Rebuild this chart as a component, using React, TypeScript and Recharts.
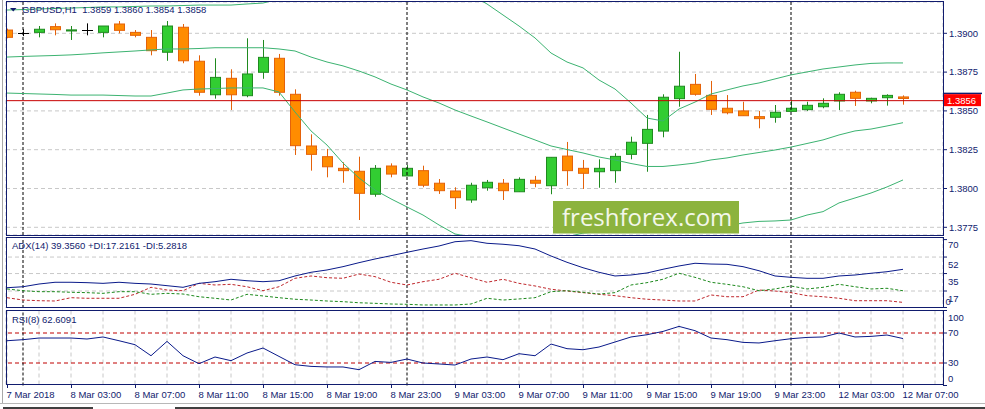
import React from 'react';
import { ComposedChart, Bar, Line, XAxis, YAxis, CartesianGrid, ReferenceLine } from 'recharts';

// ---------- data ----------
const opens = [1.39021, 1.39000, 1.39006, 1.39043, 1.39015, 1.39021, 1.39006, 1.39060, 1.39006, 1.38974,
  1.38878, 1.39039, 1.38820, 1.38604, 1.38710, 1.38598, 1.38749, 1.38839, 1.38607, 1.38274,
  1.38205, 1.38130, 1.38111, 1.37963, 1.38145, 1.38081, 1.38115, 1.38034, 1.37984, 1.37926,
  1.38005, 1.38034, 1.37979, 1.38053, 1.38018, 1.38209, 1.38130, 1.38108, 1.38115, 1.38220,
  1.38291, 1.38370, 1.38579, 1.38671, 1.38600, 1.38517, 1.38500, 1.38463, 1.38459, 1.38497,
  1.38508, 1.38527, 1.38564, 1.38620, 1.38564, 1.38585, 1.38590];
const highs = [1.39030, 1.39026, 1.39047, 1.39064, 1.39047, 1.39064, 1.39047, 1.39079, 1.39021, 1.39021,
  1.39079, 1.39060, 1.38858, 1.38839, 1.38768, 1.38968, 1.38957, 1.38867, 1.38639, 1.38349,
  1.38255, 1.38169, 1.38205, 1.38151, 1.38162, 1.38151, 1.38147, 1.38061, 1.38008, 1.38037,
  1.38055, 1.38061, 1.38072, 1.38081, 1.38201, 1.38300, 1.38184, 1.38188, 1.38227, 1.38334,
  1.38474, 1.38607, 1.38881, 1.38738, 1.38693, 1.38602, 1.38559, 1.38500, 1.38538, 1.38570,
  1.38559, 1.38581, 1.38620, 1.38630, 1.38585, 1.38607, 1.38600];
const lows = [1.38968, 1.38982, 1.38974, 1.38987, 1.38957, 1.38987, 1.38974, 1.39000, 1.38974, 1.38858,
  1.38823, 1.38807, 1.38598, 1.38579, 1.38506, 1.38588, 1.38707, 1.38598, 1.38216, 1.38115,
  1.38072, 1.38037, 1.37797, 1.37947, 1.38072, 1.38081, 1.38008, 1.37965, 1.37868, 1.37908,
  1.37986, 1.37926, 1.37979, 1.38008, 1.37963, 1.38018, 1.37997, 1.38005, 1.38037, 1.38188,
  1.38108, 1.38330, 1.38527, 1.38598, 1.38474, 1.38478, 1.38469, 1.38388, 1.38424, 1.38497,
  1.38500, 1.38517, 1.38506, 1.38532, 1.38549, 1.38534, 1.38540];
const closes = [1.38974, 1.39000, 1.39026, 1.39023, 1.39022, 1.39021, 1.39047, 1.39019, 1.38987, 1.38888,
  1.39047, 1.38823, 1.38620, 1.38716, 1.38604, 1.38738, 1.38845, 1.38620, 1.38276, 1.38220,
  1.38140, 1.38115, 1.37969, 1.38130, 1.38093, 1.38130, 1.38021, 1.37986, 1.37941, 1.38021,
  1.38040, 1.37986, 1.38059, 1.38034, 1.38201, 1.38115, 1.38098, 1.38130, 1.38207, 1.38298,
  1.38381, 1.38588, 1.38659, 1.38607, 1.38510, 1.38488, 1.38469, 1.38450, 1.38491, 1.38517,
  1.38536, 1.38549, 1.38607, 1.38581, 1.38581, 1.38600, 1.38580];

const bbUpper = [1.39150, 1.39153, 1.39157, 1.39160, 1.39163, 1.39166, 1.39170, 1.39170, 1.39173, 1.39176,
  1.39176, 1.39179, 1.39182, 1.39182, 1.39182, 1.39189, 1.39195, 1.39221, 1.39279, 1.39324,
  1.39350, 1.39414, 1.39447, 1.39447, 1.39414, 1.39389, 1.39350, 1.39337, 1.39305, 1.39247,
  1.39189, 1.39118, 1.39047, 1.38970, 1.38873, 1.38815, 1.38777, 1.38699, 1.38641, 1.38551,
  1.38454, 1.38435, 1.38512, 1.38557, 1.38609, 1.38635, 1.38661, 1.38680, 1.38706, 1.38732,
  1.38751, 1.38770, 1.38783, 1.38796, 1.38806, 1.38809, 1.38809];
const bbMiddle = [1.38847, 1.38851, 1.38854, 1.38857, 1.38861, 1.38867, 1.38874, 1.38880, 1.38886, 1.38893,
  1.38899, 1.38899, 1.38902, 1.38907, 1.38907, 1.38907, 1.38907, 1.38899, 1.38886, 1.38847,
  1.38815, 1.38790, 1.38757, 1.38719, 1.38673, 1.38635, 1.38590, 1.38551, 1.38506, 1.38467,
  1.38429, 1.38390, 1.38351, 1.38313, 1.38274, 1.38251, 1.38229, 1.38203, 1.38184, 1.38161,
  1.38142, 1.38142, 1.38152, 1.38164, 1.38184, 1.38197, 1.38216, 1.38232, 1.38248, 1.38267,
  1.38290, 1.38313, 1.38345, 1.38371, 1.38383, 1.38403, 1.38424];
const bbLower = [1.38615, 1.38612, 1.38609, 1.38606, 1.38602, 1.38602, 1.38602, 1.38599, 1.38596, 1.38596,
  1.38615, 1.38635, 1.38641, 1.38644, 1.38648, 1.38648, 1.38648, 1.38622, 1.38493, 1.38371,
  1.38280, 1.38164, 1.38068, 1.37990, 1.37933, 1.37881, 1.37829, 1.37765, 1.37707, 1.37688,
  1.37662, 1.37655, 1.37636, 1.37623, 1.37655, 1.37688, 1.37713, 1.37720, 1.37720, 1.37765,
  1.37823, 1.37849, 1.37797, 1.37772, 1.37759, 1.37759, 1.37778, 1.37788, 1.37791, 1.37797,
  1.37829, 1.37851, 1.37907, 1.37939, 1.37971, 1.38010, 1.38055];

const adxMain = [20.4, 21.4, 24.2, 26.0, 26.0, 25.6, 24.9, 26.0, 24.9, 24.2,
  22.5, 20.8, 24.9, 26.6, 29.1, 27.6, 26.6, 27.6, 32.5, 36.3,
  38.7, 42.1, 46.2, 50.0, 53.4, 56.9, 60.3, 63.4, 67.8, 68.9,
  66.2, 65.2, 63.7, 60.3, 53.1, 46.6, 41.0, 36.3, 32.5, 33.5,
  35.6, 39.4, 42.8, 45.6, 44.8, 44.5, 42.1, 37.9, 32.5, 31.1,
  30.1, 30.1, 32.5, 33.5, 35.3, 36.9, 39.36];
const plusDI = [19.1, 17.3, 16.3, 16.3, 15.7, 15.3, 14.6, 16.3, 16.3, 13.6,
  14.6, 13.9, 11.1, 9.5, 7.7, 13.6, 11.9, 10.1, 8.5, 7.7,
  6.7, 6.0, 4.9, 4.3, 3.6, 3.3, 2.6, 2.6, 2.6, 3.6,
  9.5, 7.7, 8.8, 10.1, 16.3, 17.3, 15.7, 13.9, 15.3, 23.2,
  25.6, 29.1, 35.3, 31.1, 26.0, 23.9, 21.4, 17.3, 19.1, 22.2,
  19.1, 20.8, 23.9, 21.4, 19.1, 19.8, 17.22];
const minusDI = [10.1, 7.7, 7.0, 6.7, 10.1, 9.5, 9.5, 9.5, 13.6, 20.8,
  18.0, 17.3, 24.9, 23.2, 23.9, 21.4, 17.3, 21.4, 30.1, 32.5,
  30.7, 30.1, 34.5, 31.8, 26.0, 23.2, 26.6, 29.1, 35.3, 30.7,
  26.0, 29.1, 24.9, 22.2, 18.8, 17.0, 15.3, 13.6, 12.2, 10.1,
  8.5, 7.7, 6.7, 6.7, 12.9, 11.1, 11.1, 18.0, 17.0, 15.3,
  12.2, 11.1, 9.5, 7.0, 7.0, 7.0, 5.28];
const rsiValues = [59.7, 61.1, 63.3, 63.3, 63.3, 62.0, 64.7, 59.7, 54.4, 39.7,
  58.8, 39.7, 29.1, 38.0, 33.1, 43.3, 50.0, 38.8, 27.7, 25.5,
  24.7, 24.7, 21.1, 32.1, 30.8, 35.3, 30.0, 28.7, 27.3, 35.3,
  38.0, 34.4, 42.4, 39.7, 55.3, 49.1, 47.7, 51.3, 58.0, 64.7,
  67.7, 72.1, 78.8, 73.1, 63.3, 61.1, 57.5, 56.7, 59.7, 62.4,
  64.1, 64.7, 70.0, 64.7, 65.5, 67.3, 62.61];

const timeTickIdx = [0, 4, 8, 12, 16, 20, 24, 28, 32, 36, 40, 44, 48, 52, 56];
const timeLabels = ['7 Mar 2018', '8 Mar 03:00', '8 Mar 07:00', '8 Mar 11:00', '8 Mar 15:00', '8 Mar 19:00',
  '8 Mar 23:00', '9 Mar 03:00', '9 Mar 07:00', '9 Mar 11:00', '9 Mar 15:00', '9 Mar 19:00',
  '9 Mar 23:00', '12 Mar 03:00', '12 Mar 07:00'];
const gridIdx = Array.from({ length: 30 }, (_, k) => k * 2);
const separatorIdx = [1, 25, 49];
const priceTicks = [1.3775, 1.38, 1.3825, 1.385, 1.3875, 1.39];
const bidPrice = 1.38566;
const bidLabel = '1.3856';
const adxTicks = [70, 52, 35, 17, 0];
const adxGrid = [52, 35, 17];
const rsiTicks = [100, 70, 30, 0];
const rsiLevels = [70, 30];
const headerText = 'GBPUSD,H1  1.3859 1.3860 1.3854 1.3858';
const adxText = 'ADX(14) 39.3560 +DI:17.2161 -DI:5.2818';
const rsiText = 'RSI(8) 62.6091';
const watermark = 'freshforex.com';

const data = opens.map((o, i) => ({
  i,
  o,
  h: highs[i],
  l: lows[i],
  c: closes[i],
  range: [lows[i], highs[i]],
  bbUp: bbUpper[i],
  bbMid: bbMiddle[i],
  bbLo: bbLower[i],
  adx: adxMain[i],
  pdi: plusDI[i],
  mdi: minusDI[i],
  rsi: rsiValues[i],
}));

// ---------- style ----------
const W = 985;
const H = 409;
const NAVY = '#111c6e';
const GRID = '#c8c8c8';
const FONT = '"Liberation Sans", Arial, sans-serif';
const FS = 9.5;
const X_DOMAIN: [number, number] = [-0.0625, 58.5];
const BAND = '#3cb371';

function renderCandle(props: any) {
  const { x, y, width, height, payload } = props;
  if (!payload || height == null || isNaN(y)) return <g />;
  const { o, h, l, c } = payload;
  const cx = Math.round(x + width / 2);
  const ratio = h > l ? height / (h - l) : 0;
  const py = (p: number) => y + (h - p) * ratio;
  const wx = cx + 0.5;
  if (o === c) {
    const yy = Math.round(py(o)) + 0.5;
    return (
      <g>
        <line x1={wx} x2={wx} y1={y} y2={y + height} stroke="#000" strokeWidth={1} />
        <line x1={cx - 5} x2={cx + 6} y1={yy} y2={yy} stroke="#000" strokeWidth={1} />
      </g>
    );
  }
  const bull = c > o;
  const top = py(Math.max(o, c));
  const bot = py(Math.min(o, c));
  const stroke = bull ? '#1f8a1f' : '#e4620a';
  const fill = bull ? '#32cd32' : '#ff8c00';
  return (
    <g>
      <line x1={wx} x2={wx} y1={y} y2={y + height} stroke={stroke} strokeWidth={1} />
      <rect x={cx - 4.5} y={top} width={10} height={Math.max(bot - top, 1)} fill={fill} stroke={stroke} strokeWidth={1} />
    </g>
  );
}

const BidLabel = (props: any) => {
  const vb = props.viewBox || {};
  const x = (vb.x ?? 0) + (vb.width ?? 0);
  const y = vb.y ?? 0;
  return (
    <g>
      <rect x={x + 1} y={y - 8} width={38} height={1.5} fill={NAVY} />
      <rect x={x + 1} y={y - 6.5} width={37} height={12} fill="#ff0000" />
      <text x={x + 4} y={y + 3.6} fill="#ffffff" fontSize={FS} fontFamily={FONT}>{bidLabel}</text>
    </g>
  );
};

const AdxTick = (props: any) => {
  const { x, y, payload } = props;
  const v = payload.value;
  const dy = v === 70 ? 5 : v === 0 ? -5.5 : 7.6;
  const dx = v === 0 ? -2.5 : 0;
  return (
    <text x={x + dx} y={y + dy + 3.4} fill={NAVY} fontSize={FS} fontFamily={FONT}>{v}</text>
  );
};

const RsiTick = (props: any) => {
  const { x, y, payload } = props;
  const v = payload.value;
  const dy = v === 100 ? 6.8 : v === 0 ? -7.2 : 0;
  return (
    <text x={x} y={y + dy + 3.4} fill={NAVY} fontSize={FS} fontFamily={FONT}>{v}</text>
  );
};

const TimeTick = (props: any) => {
  const { x, y, payload } = props;
  const k = timeTickIdx.indexOf(payload.value);
  if (k < 0) return <g />;
  const xx = Math.round(x) + 0.5;
  return (
    <g>
      <line x1={xx} x2={xx} y1={y - 5.5} y2={y - 1.5} stroke={NAVY} />
      <text x={x - 0.5} y={y + 8.2} fill={NAVY} fontSize={FS} fontFamily={FONT} textAnchor="start">{timeLabels[k]}</text>
    </g>
  );
};

const layer: React.CSSProperties = { position: 'absolute', left: 0, top: 0 };

export default function App() {
  return (
    <div style={{ position: 'absolute', left: 0, top: 0, width: W, height: H, background: '#ffffff', overflow: 'hidden' }}>
      {/* main price panel */}
      <div style={layer}>
        <ComposedChart width={W} height={H} data={data} margin={{ top: 2, right: 0, bottom: 174, left: 6 }}>
          <CartesianGrid stroke={GRID} strokeDasharray="4 3" />
          <XAxis type="number" dataKey="i" domain={X_DOMAIN} ticks={gridIdx} allowDataOverflow height={0}
            tick={false} axisLine={false} tickLine={false} />
          <YAxis orientation="right" width={42} domain={[1.377004, 1.392017]} allowDataOverflow ticks={priceTicks}
            interval={0} tickFormatter={(v: number) => v.toFixed(4)} tick={{ fill: NAVY, fontSize: FS, fontFamily: FONT }}
            tickSize={4} tickMargin={2} tickLine={{ stroke: NAVY }} axisLine={false} />
          {separatorIdx.map((s) => (
            <ReferenceLine key={'s' + s} x={s} stroke="#000" strokeDasharray="3 2" />
          ))}
          <Line type="linear" dataKey="bbUp" stroke={BAND} strokeWidth={1} dot={false} isAnimationActive={false} />
          <Line type="linear" dataKey="bbMid" stroke={BAND} strokeWidth={1} dot={false} isAnimationActive={false} />
          <Line type="linear" dataKey="bbLo" stroke={BAND} strokeWidth={1} dot={false} isAnimationActive={false} />
          <Bar dataKey="range" barSize={10} shape={renderCandle} isAnimationActive={false} />
          <ReferenceLine y={bidPrice} stroke="#c80000" strokeWidth={1} label={<BidLabel />} />
        </ComposedChart>
      </div>

      {/* ADX panel */}
      <div style={layer}>
        <ComposedChart width={W} height={H} data={data} margin={{ top: 237, right: 0, bottom: 101, left: 6 }}>
          <CartesianGrid stroke={GRID} strokeDasharray="4 3" horizontal={false} />
          <XAxis type="number" dataKey="i" domain={X_DOMAIN} ticks={gridIdx} allowDataOverflow height={0}
            tick={false} axisLine={false} tickLine={false} />
          <YAxis orientation="right" width={42} domain={[-0.52, 72.68]} allowDataOverflow ticks={adxTicks}
            interval={0} tick={<AdxTick />} tickSize={4} tickMargin={1} tickLine={{ stroke: NAVY }} axisLine={false} />
          {adxGrid.map((g) => (
            <ReferenceLine key={'g' + g} y={g} stroke={GRID} strokeDasharray="4 3" />
          ))}
          {separatorIdx.map((s) => (
            <ReferenceLine key={'s' + s} x={s} stroke="#000" strokeDasharray="3 2" />
          ))}
          <Line type="linear" dataKey="mdi" stroke="#c0282d" strokeWidth={1} strokeDasharray="3 2" dot={false} isAnimationActive={false} />
          <Line type="linear" dataKey="pdi" stroke="#1e8a1e" strokeWidth={1} strokeDasharray="3 2" dot={false} isAnimationActive={false} />
          <Line type="linear" dataKey="adx" stroke="#0a1a8a" strokeWidth={1} dot={false} isAnimationActive={false} />
        </ComposedChart>
      </div>

      {/* RSI panel */}
      <div style={layer}>
        <ComposedChart width={W} height={H} data={data} margin={{ top: 310.5, right: 0, bottom: 0, left: 6 }}>
          <CartesianGrid stroke={GRID} strokeDasharray="4 3" horizontal={false} />
          <XAxis type="number" dataKey="i" domain={X_DOMAIN} ticks={gridIdx} allowDataOverflow height={23.5}
            tick={<TimeTick />} tickSize={4} tickMargin={0} axisLine={false} tickLine={false} interval={0} />
          <YAxis orientation="right" width={42} domain={[0, 100]} allowDataOverflow ticks={rsiTicks}
            interval={0} tick={<RsiTick />} tickSize={4} tickMargin={1} tickLine={{ stroke: NAVY }} axisLine={false} />
          {rsiLevels.map((lv) => (
            <ReferenceLine key={'l' + lv} y={lv} stroke="#c00000" strokeDasharray="4 3" />
          ))}
          {separatorIdx.map((s) => (
            <ReferenceLine key={'s' + s} x={s} stroke="#000" strokeDasharray="3 2" />
          ))}
          <Line type="linear" dataKey="rsi" stroke="#0a1a8a" strokeWidth={1} dot={false} isAnimationActive={false} />
        </ComposedChart>
      </div>

      {/* frames, titles, watermark */}
      <svg width={W} height={H} style={{ ...layer, pointerEvents: 'none' }}>
        <rect x={553} y={201} width={186} height={32.5} fill="#8cb33e" />
        <text x={562} y={226} fill="#f3f7ea" fontSize={24} fontFamily='"Open Sans", "Noto Sans", sans-serif'>{watermark}</text>

        <rect x={6.5} y={1.5} width={937} height={234} fill="none" stroke={NAVY} strokeWidth={1} />
        <rect x={6.5} y={237.5} width={937} height={70} fill="none" stroke={NAVY} strokeWidth={1} />
        <rect x={6.5} y={310.5} width={937} height={74} fill="none" stroke={NAVY} strokeWidth={1} />

        <polygon points="10,8 16.5,8 13.25,11.5" fill={NAVY} />
        <text x={22} y={12.7} fill={NAVY} fontSize={FS} fontFamily={FONT} style={{ whiteSpace: 'pre' }}>{headerText}</text>
        <text x={12} y={249.3} fill={NAVY} fontSize={FS} fontFamily={FONT}>{adxText}</text>
        <text x={12} y={322.7} fill={NAVY} fontSize={FS} fontFamily={FONT}>{rsiText}</text>

        <line x1={2.5} y1={0} x2={2.5} y2={404} stroke="#a8a8a8" strokeWidth={1} />
        <line x1={0} y1={403.5} x2={W} y2={403.5} stroke="#b8b8b8" strokeWidth={1} />
        <line x1={3} y1={408} x2={93} y2={408} stroke="#000" strokeWidth={1.5} />
        <line x1={175} y1={408} x2={W} y2={408} stroke="#000" strokeWidth={1.5} />
      </svg>
    </div>
  );
}
